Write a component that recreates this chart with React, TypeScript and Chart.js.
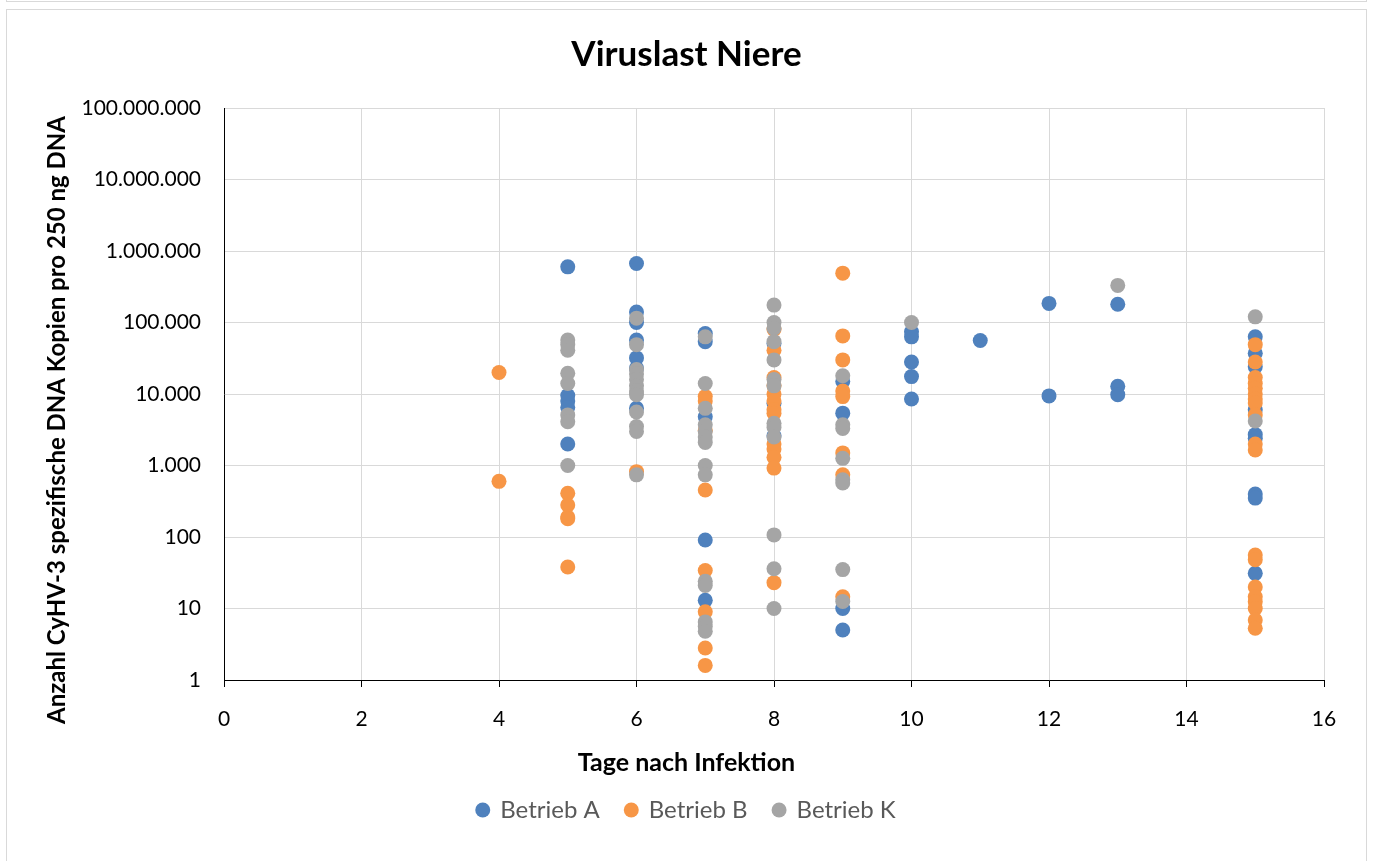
import React, { useEffect, useRef } from 'react';
import { Chart, registerables } from 'chart.js';

Chart.register(...registerables);

const chartTitle = 'Viruslast Niere';
const xAxisTitle = 'Tage nach Infektion';
const yAxisTitle = 'Anzahl CyHV-3 spezifische DNA Kopien pro 250 ng DNA';

const seriesNames = ['Betrieb A', 'Betrieb B', 'Betrieb K'];
const seriesColors = ['#4F81BD', '#F79646', '#A5A5A5'];

const yTickValues = [1, 10, 100, 1000, 10000, 100000, 1000000, 10000000, 100000000];
const yTickLabels = ['1', '10', '100', '1.000', '10.000', '100.000', '1.000.000', '10.000.000', '100.000.000'];
const xTickValues = [0, 2, 4, 6, 8, 10, 12, 14, 16];

// Betrieb A
const aDays = [
  5, 5, 5, 5, 5,
  6, 6, 6, 6, 6, 6, 6,
  7, 7, 7, 7, 7,
  8, 8, 8,
  9, 9, 9, 9,
  10, 10, 10, 10, 10,
  11,
  12, 12,
  13, 13, 13,
  15, 15, 15, 15, 15, 15, 15, 15, 15,
];
const aValues = [
  600000, 9500, 8000, 6500, 2000,
  670000, 140000, 100000, 57000, 32000, 23000, 6300,
  70000, 54000, 4800, 91, 13,
  51000, 7400, 2600,
  15000, 5400, 10, 5,
  74000, 63000, 28000, 17500, 8500,
  56000,
  185000, 9400,
  180000, 12800, 9800,
  63000, 37000, 24000, 6000, 2700, 2400, 400, 350, 31,
];

// Betrieb B
const bDays = [
  4, 4,
  5, 5, 5, 5, 5,
  6,
  7, 7, 7, 7, 7, 7, 7, 7,
  8, 8, 8, 8, 8, 8, 8, 8, 8, 8, 8, 8, 8,
  9, 9, 9, 9, 9, 9, 9, 9,
  15, 15, 15, 15, 15, 15, 15, 15, 15, 15, 15, 15, 15, 15, 15, 15, 15, 15, 15,
];
const bValues = [
  20000, 600,
  410, 280, 190, 180, 38,
  820,
  9200, 8000, 3100, 455, 34, 9, 2.8, 1.6,
  80000, 41000, 17000, 13000, 10000, 8000, 6000, 5400, 2000, 1700, 1300, 920, 23,
  490000, 65000, 30000, 11000, 9200, 1500, 740, 14.6,
  49000, 28000, 17000, 14000, 12000, 10000, 8500, 7500, 5100, 2000, 1650, 56, 48, 20, 14.6, 12.4, 10, 6.9, 5.3,
];

// Betrieb K
const kDays = [
  5, 5, 5, 5, 5, 5, 5, 5,
  6, 6, 6, 6, 6, 6, 6, 6, 6, 6, 6, 6,
  7, 7, 7, 7, 7, 7, 7, 7, 7, 7, 7, 7, 7, 7,
  8, 8, 8, 8, 8, 8, 8, 8, 8, 8, 8, 8, 8,
  9, 9, 9, 9, 9, 9, 9, 9,
  10,
  13,
  15, 15,
];
const kValues = [
  57000, 49000, 41000, 19500, 14000, 5100, 4100, 1000,
  115000, 49000, 22000, 19000, 16000, 13000, 11000, 9800, 5600, 3500, 3000, 740,
  63000, 14000, 6300, 3700, 3000, 2500, 2100, 1000, 740, 24, 21, 6.5, 5.6, 4.8,
  175000, 100000, 83000, 54000, 30000, 16000, 13000, 3900, 3400, 2500, 107, 36, 10,
  18000, 3700, 3300, 1260, 630, 570, 35, 12.5,
  100000,
  330000,
  120000, 4200,
];

const seriesDays = [aDays, bDays, kDays];
const seriesValues = [aValues, bValues, kValues];

const FONT = 'Lato';

const axisTitlesPlugin = {
  id: 'axisTitlesPlugin',
  afterDraw(chart: any) {
    const { ctx, chartArea } = chart;
    ctx.save();
    ctx.fillStyle = '#000000';
    ctx.textAlign = 'center';
    ctx.textBaseline = 'middle';
    ctx.font = `bold 25px ${FONT}`;
    ctx.fillText(xAxisTitle, chart.width / 2, chartArea.bottom + 83);
    ctx.font = `bold 24px ${FONT}`;
    ctx.translate(50, 410);
    ctx.rotate(-Math.PI / 2);
    ctx.fillText(yAxisTitle, 0, 0);
    ctx.restore();
  },
};

export default function App() {
  const canvasRef = useRef<HTMLCanvasElement | null>(null);

  useEffect(() => {
    if (!canvasRef.current) return;
    const datasets = seriesNames.map((name, i) => ({
      label: name,
      data: seriesDays[i].map((d, j) => ({ x: d, y: seriesValues[i][j] })),
      backgroundColor: seriesColors[i],
      borderColor: seriesColors[i],
      borderWidth: 0,
      pointRadius: 7.5,
      pointHoverRadius: 7.5,
      pointStyle: 'circle',
      order: 3 - i,
    }));

    const chart = new Chart(canvasRef.current, {
      type: 'scatter',
      data: { datasets },
      plugins: [axisTitlesPlugin],
      options: {
        animation: false,
        responsive: false,
        devicePixelRatio: 1,
        layout: { padding: { left: 0, right: 0, top: 0, bottom: 29 } },
        plugins: {
          tooltip: { enabled: false },
          title: {
            display: true,
            text: chartTitle,
            color: '#000000',
            font: { family: FONT, size: 35, weight: 'bold' },
            padding: { top: 24, bottom: 32 },
          },
          legend: {
            display: true,
            position: 'bottom',
            labels: {
              usePointStyle: true,
              pointStyle: 'circle',
              boxWidth: 11,
              boxHeight: 10.6,
              padding: 26,
              color: '#595959',
              font: { family: FONT, size: 24 },
              sort: (a: any, b: any) => a.datasetIndex - b.datasetIndex,
            },
          },
        },
        scales: {
          x: {
            type: 'linear',
            position: 'bottom',
            min: 0,
            max: 16,
            afterBuildTicks: (scale: any) => {
              scale.ticks = xTickValues.map((v) => ({ value: v }));
            },
            afterFit: (scale: any) => {
              scale.height = 92;
            },
            ticks: {
              color: '#000000',
              font: { family: FONT, size: 21 },
              padding: 20,
              maxRotation: 0,
              autoSkip: false,
            },
            grid: {
              color: (ctx: any) => (ctx.tick && ctx.tick.value === 0 ? 'rgba(0,0,0,0)' : '#D9D9D9'),
              lineWidth: 1,
              drawTicks: true,
              tickLength: 7,
              tickColor: '#000000',
            },
            border: { display: true, color: '#000000', width: 1 },
          },
          y: {
            type: 'logarithmic',
            position: 'left',
            min: 1,
            max: 100000000,
            afterBuildTicks: (scale: any) => {
              scale.ticks = yTickValues.map((v) => ({ value: v, major: true }));
            },
            afterFit: (scale: any) => {
              scale.width = 217;
            },
            ticks: {
              color: '#000000',
              font: { family: FONT, size: 21 },
              padding: 23,
              autoSkip: false,
              callback: (_v: any, i: number) => yTickLabels[i],
            },
            grid: {
              color: (ctx: any) => (ctx.tick && ctx.tick.value === 1 ? 'rgba(0,0,0,0)' : '#D9D9D9'),
              lineWidth: 1,
              drawTicks: false,
            },
            border: { display: true, color: '#000000', width: 1 },
          },
          yRightSpace: {
            type: 'linear',
            position: 'right',
            display: true,
            min: 0,
            max: 1,
            afterFit: (scale: any) => {
              scale.width = 42;
            },
            ticks: { display: false },
            grid: { display: false, drawTicks: false },
            border: { display: false },
          },
        },
      },
    } as any);

    return () => chart.destroy();
  }, []);

  return (
    <div
      style={{
        position: 'absolute',
        left: 0,
        top: 0,
        width: 1373,
        height: 861,
        overflow: 'hidden',
        background: '#ffffff',
      }}
    >
      <div
        style={{
          position: 'absolute',
          left: 6,
          top: -20,
          width: 1359,
          height: 20,
          border: '1px solid #D9D9D9',
        }}
      />
      <div
        style={{
          position: 'absolute',
          left: 6,
          top: 9,
          width: 1359,
          height: 880,
          border: '1px solid #D9D9D9',
          background: '#ffffff',
        }}
      >
        <canvas
          ref={canvasRef}
          width={1359}
          height={851}
          style={{ display: 'block', width: 1359, height: 851 }}
        />
      </div>
    </div>
  );
}
